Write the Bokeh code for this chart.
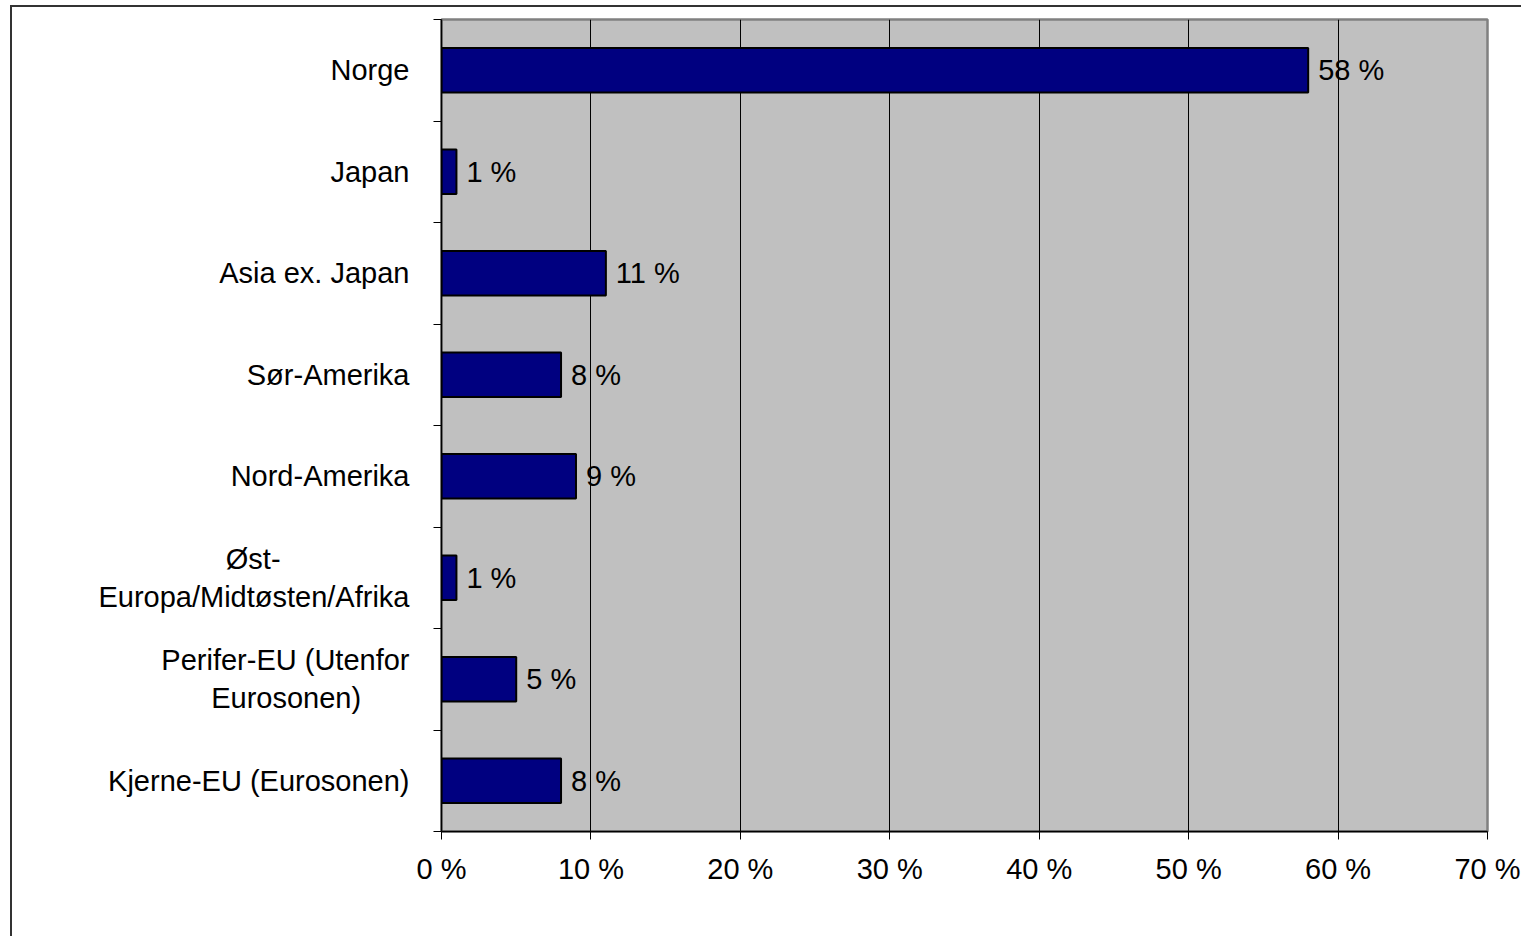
from bokeh.plotting import figure
from bokeh.models import FixedTicker, ColumnDataSource, LabelSet, Range1d
from bokeh.embed import file_html
from bokeh.resources import INLINE
from bokeh.core.properties import value

# Data (bottom to top)
categories = [
    "Kjerne-EU (Eurosonen)",
    "Perifer-EU (Utenfor\nEurosonen)",
    "Øst-\nEuropa/Midtøsten/Afrika",
    "Nord-Amerika",
    "Sør-Amerika",
    "Asia ex. Japan",
    "Japan",
    "Norge",
]
shares = [8, 5, 1, 9, 8, 11, 1, 58]
x_ticks = [0, 10, 20, 30, 40, 50, 60, 70]
x_tick_labels = ["0 %", "10 %", "20 %", "30 %", "40 %", "50 %", "60 %", "70 %"]

FONT = "Liberation Sans"
FS = "29px"

# Approximate Arial/Liberation Sans advance widths (em) used to centre the
# lines of wrapped tick labels (Bokeh right-aligns the lines of a left axis).
EM = {'Ø': .778, 's': .5, 't': .278, '-': .333, 'E': .667, 'u': .556, 'r': .333,
      'o': .556, 'p': .556, 'a': .556, '/': .278, 'M': .833, 'i': .222, 'd': .556,
      'ø': .611, 'e': .556, 'n': .556, 'A': .667, 'f': .278, 'k': .5, 'P': .667,
      '(': .333, ')': .333, 'U': .722, ' ': .278}
NBSP_EM = 0.278


def centre_lines(label):
    lines = label.split("\n")
    if len(lines) == 1:
        return label
    widths = [sum(EM.get(c, 0.556) for c in ln) for ln in lines]
    wmax = max(widths)
    return "\n".join(ln + "\u00a0" * round((wmax - w) / 2 / NBSP_EM)
                     for ln, w in zip(lines, widths))


n = len(categories)
centers = [i + 0.5 for i in range(n)]
bounds = [float(i) for i in range(n + 1)]

src = ColumnDataSource(dict(
    y=centers,
    x=shares,
    label=[f"{v} %" for v in shares],
))

p = figure(
    width=1521, height=936,
    x_range=Range1d(x_ticks[0], x_ticks[-1]),
    y_range=Range1d(0, n),
    output_backend="svg", toolbar_location=None,
    min_border_left=441, min_border_top=19, min_border_right=34, min_border_bottom=105,
)
# outer chart border (left and top visible, as in the cropped original)
p.styles = {
    "background": "linear-gradient(#333333,#333333) 10px 5px / 2px 100% no-repeat, "
                  "linear-gradient(#333333,#333333) 10px 5px / 100% 2px no-repeat, white",
}

p.background_fill_color = "#C0C0C0"
p.border_fill_alpha = 0
p.outline_line_color = "#808080"
p.outline_line_width = 2.5

p.hbar(y="y", right="x", left=0, height=0.44, source=src,
       fill_color="#000080", line_color="black", line_width=2)

labels = LabelSet(x="x", y="y", text="label", source=src, x_offset=10,
                  text_baseline="middle", text_align="left",
                  text_font=value(FONT), text_font_size=FS, text_color="black")
p.add_layout(labels)

# X axis
p.xaxis.ticker = FixedTicker(ticks=x_ticks)
p.xaxis.major_label_overrides = {t: l for t, l in zip(x_ticks, x_tick_labels)}
p.xaxis.major_tick_out = 8
p.xaxis.major_tick_in = 0
p.xaxis.minor_tick_out = 0
p.xaxis.minor_tick_in = 0
p.xaxis.axis_line_color = "black"
p.xaxis.axis_line_width = 1.5
p.xaxis.major_tick_line_color = "black"
p.xaxis.major_label_text_font = FONT
p.xaxis.major_label_text_font_size = FS
p.xaxis.major_label_text_color = "black"
p.xaxis.major_label_standoff = 13

# Y axis
p.yaxis.ticker = FixedTicker(ticks=centers, minor_ticks=bounds)
p.yaxis.major_label_overrides = {c: centre_lines(l) for c, l in zip(centers, categories)}
p.yaxis.major_tick_out = 0
p.yaxis.major_tick_in = 0
p.yaxis.minor_tick_out = 8
p.yaxis.minor_tick_in = 0
p.yaxis.minor_tick_line_color = "black"
p.yaxis.axis_line_color = "black"
p.yaxis.axis_line_width = 1.5
p.yaxis.major_label_text_font = FONT
p.yaxis.major_label_text_font_size = FS
p.yaxis.major_label_text_color = "black"
p.yaxis.major_label_standoff = 24

# Grid
p.xgrid.grid_line_color = "black"
p.xgrid.grid_line_width = 1
p.ygrid.grid_line_color = None

open("out.html", "w").write(file_html(p, INLINE))
